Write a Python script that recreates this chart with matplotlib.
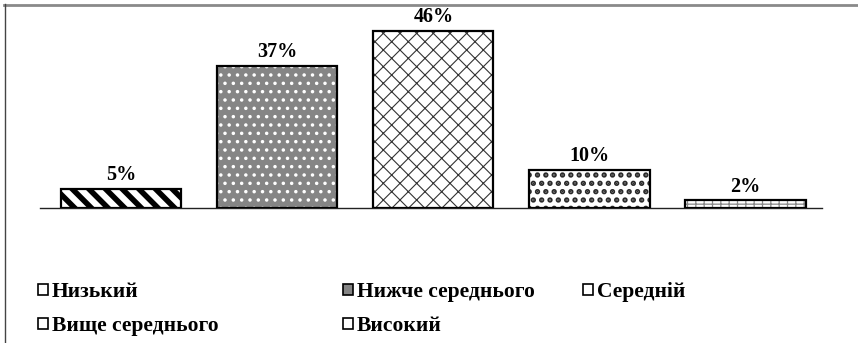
import matplotlib
matplotlib.use("Agg")
import matplotlib.pyplot as plt
from matplotlib.patches import Patch
from matplotlib.lines import Line2D

categories = ["Низький", "Нижче середнього", "Середній", "Вище середнього", "Високий"]
values = [5, 37, 46, 10, 2]
labels = ["5%", "37%", "46%", "10%", "2%"]

W, H = 858, 343
fig = plt.figure(figsize=(W / 100, H / 100), dpi=100)
fig.patch.set_facecolor("white")

# frame decoration
fig.add_artist(Line2D([4 / W, 1], [1 - 4.5 / H, 1 - 4.5 / H], transform=fig.transFigure,
                      color="#8a8a8a", lw=2.0))
fig.add_artist(Line2D([5 / W, 5 / W], [0, 1 - 4 / H], transform=fig.transFigure,
                      color="#444444", lw=1.0))

ax = fig.add_axes([40 / W, 135 / H, 782 / W, 192.5 / H])
ax.set_xlim(-0.52, 4.49)
ax.set_ylim(0, 50)
for s in ["top", "right", "left"]:
    ax.spines[s].set_visible(False)
ax.spines["bottom"].set_linewidth(1.0)
ax.spines["bottom"].set_color("#222222")
ax.set_xticks([])
ax.set_yticks([])
ax.patch.set_alpha(0)

x = list(range(len(values)))
styles = [
    dict(face="white", hatch="\\\\", hcolor="black", hlw=4.0),
    dict(face="#858585", hatch="..", hcolor="white", hlw=1.3),
    dict(face="white", hatch="xx", hcolor="#333333", hlw=0.8),
    dict(face="white", hatch="..", hcolor="#2a2a2a", hlw=2.6),
    dict(face="white", hatch="++", hcolor="#888888", hlw=0.9),
]

bw = 0.77
handles = []
for i, (xi, v, st) in enumerate(zip(x, values, styles)):
    ax.bar(xi, v, width=bw, color=st["face"], edgecolor="none", linewidth=0, zorder=2)
    hb = ax.bar(xi, v, width=bw, color="none", edgecolor=st["hcolor"], hatch=st["hatch"],
                linewidth=0, zorder=3)
    for p in hb.patches:
        if hasattr(p, "set_hatch_linewidth"):
            p.set_hatch_linewidth(st["hlw"])
    ax.bar(xi, v, width=bw, color="none", edgecolor="black", linewidth=1.6, zorder=4)
    ax.annotate(labels[i], (xi, v), xytext=(0, 2.5), textcoords="offset points",
                ha="center", va="bottom", fontsize=14.5, fontweight="bold",
                family="Liberation Serif")
    hp = Patch(facecolor=st["face"], edgecolor="black", linewidth=1.2)
    handles.append(hp)

# legend entries placed like the original layout
leg_pos = [(38, 292), (343, 292), (583, 292), (38, 326), (343, 326)]
for h, name, (lx, ly) in zip(handles, categories, leg_pos):
    fig.legend(handles=[h], labels=[name], loc="center left",
               bbox_to_anchor=(lx / W, 1 - ly / H), frameon=False,
               handlelength=0.45, handleheight=0.45, handletextpad=0.2,
               borderpad=0, borderaxespad=0,
               prop=dict(family="Liberation Serif", weight="bold", size=15.5))

fig.savefig("out.png", dpi=100, facecolor="white")
